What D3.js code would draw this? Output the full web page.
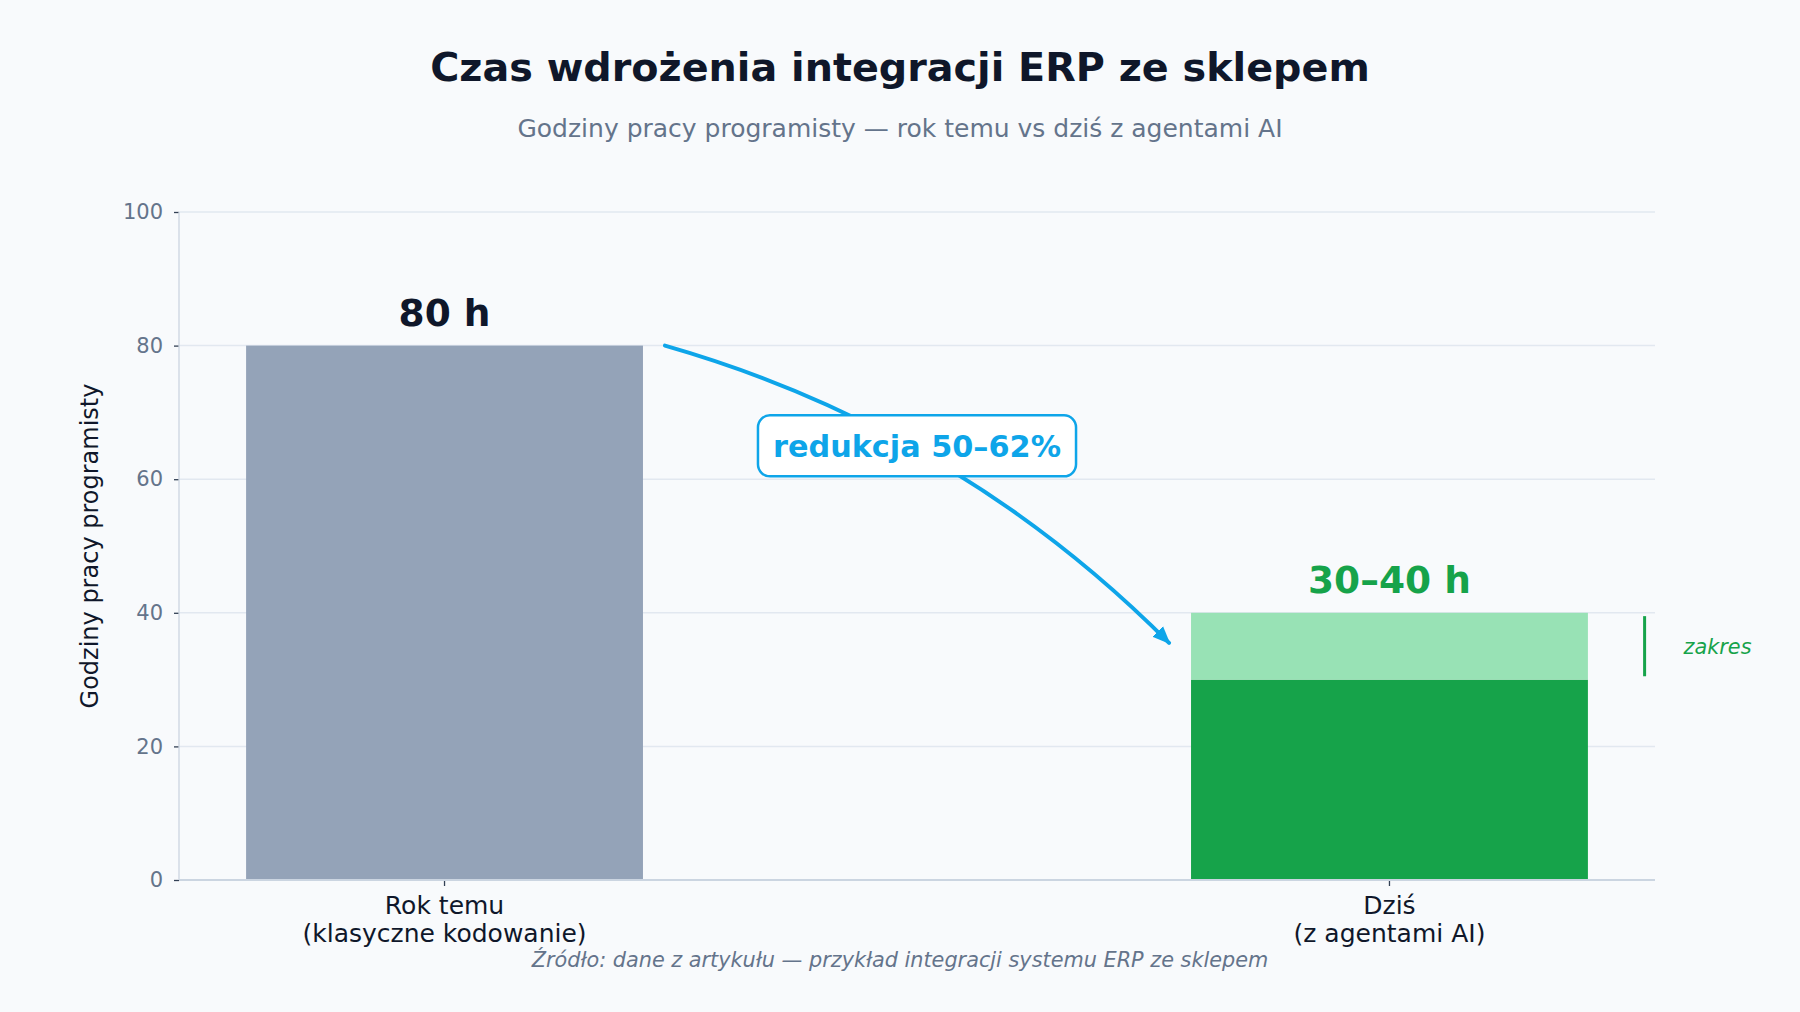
<!DOCTYPE html>
<html>
<head>
<meta charset="utf-8">
<script src="https://cdn.jsdelivr.net/npm/d3@7/dist/d3.min.js"></script>
<style>
  body { margin: 0; background: #f8fafc; }
  text { font-family: "DejaVu Sans", sans-serif; }
</style>
</head>
<body>
<div id="chart"></div>
<script>
// data
var categoryLines = [["Rok temu", "(klasyczne kodowanie)"], ["Dziś", "(z agentami AI)"]];
var lowValues = [80, 30];   // solid part of each bar
var highValues = [80, 40];  // top of the range
var valueLabels = ["80 h", "30–40 h"];
var yTicks = [0, 20, 40, 60, 80, 100];
var reductionLabel = "redukcja 50–62%";

var W = 1800, H = 1012;
var margin = {top: 212, right: 145, bottom: 132, left: 179};
var plotW = W - margin.left - margin.right;
var plotH = H - margin.top - margin.bottom;

var slate = "#94a3b8", green = "#16a34a", lightGreen = "#98e2b5", blue = "#0ea5e9";
var dark = "#0f172a", muted = "#64748b";

var svg = d3.select("#chart").append("svg")
    .attr("width", W)
    .attr("height", H)
    .style("background", "#f8fafc");

// titles
svg.append("text")
    .attr("x", W / 2).attr("y", 81)
    .attr("text-anchor", "middle")
    .style("font-size", "39.7px").style("font-weight", "bold")
    .style("fill", dark)
    .text("Czas wdrożenia integracji ERP ze sklepem");
svg.append("text")
    .attr("x", W / 2).attr("y", 137)
    .attr("text-anchor", "middle")
    .style("font-size", "25px")
    .style("fill", muted)
    .text("Godziny pracy programisty — rok temu vs dziś z agentami AI");

var g = svg.append("g")
    .attr("transform", "translate(" + margin.left + "," + margin.top + ")");

var x = d3.scalePoint().domain(d3.range(categoryLines.length)).range([0, plotW]).padding(0.281);
var y = d3.scaleLinear().domain([0, 100]).range([plotH, 0]);
var bw = x.step() * 0.42;

// grid
g.selectAll(".grid")
    .data(yTicks)
    .enter().append("line")
    .attr("x1", 0).attr("x2", plotW)
    .attr("y1", function(d) { return y(d); })
    .attr("y2", function(d) { return y(d); })
    .attr("stroke", "#e2e8f0")
    .attr("stroke-width", 1.5);

// y axis
var yAxis = g.append("g")
    .call(d3.axisLeft(y).tickValues(yTicks).tickSize(5).tickPadding(11));
yAxis.select(".domain").remove();
yAxis.selectAll(".tick line").attr("stroke", "#334155").attr("stroke-width", 1.3);
yAxis.selectAll(".tick text")
    .style("font-size", "21px")
    .style("fill", muted)
    .style("font-family", "DejaVu Sans, sans-serif");

g.append("line")
    .attr("x1", 0).attr("x2", 0).attr("y1", 0).attr("y2", plotH)
    .attr("stroke", "#cbd5e1").attr("stroke-width", 1.3);

svg.append("text")
    .attr("transform", "translate(98," + (margin.top + plotH / 2) + ") rotate(-90)")
    .attr("text-anchor", "middle")
    .style("font-size", "24px")
    .style("fill", dark)
    .text("Godziny pracy programisty");

// bars: solid part
g.selectAll(".bar")
    .data(lowValues)
    .enter().append("rect")
    .attr("x", function(d, i) { return x(i) - bw / 2; })
    .attr("y", function(d) { return y(d); })
    .attr("width", bw)
    .attr("height", function(d) { return y(0) - y(d); })
    .attr("fill", function(d, i) { return i === 0 ? slate : green; });

// bars: range part
g.selectAll(".range")
    .data(highValues)
    .enter().append("rect")
    .attr("x", function(d, i) { return x(i) - bw / 2; })
    .attr("y", function(d) { return y(d); })
    .attr("width", bw)
    .attr("height", function(d, i) { return y(lowValues[i]) - y(d); })
    .attr("fill", lightGreen);

// value labels
g.selectAll(".val")
    .data(valueLabels)
    .enter().append("text")
    .attr("x", function(d, i) { return x(i); })
    .attr("y", function(d, i) { return y(highValues[i]) - 20; })
    .attr("text-anchor", "middle")
    .style("font-size", "37.5px").style("font-weight", "bold")
    .style("fill", function(d, i) { return i === 0 ? dark : green; })
    .text(function(d) { return d; });

// bottom spine + x ticks
g.append("line")
    .attr("x1", 0).attr("x2", plotW).attr("y1", plotH).attr("y2", plotH)
    .attr("stroke", "#cbd5e1").attr("stroke-width", 2);

var xt = g.selectAll(".xtick")
    .data(categoryLines)
    .enter().append("g")
    .attr("transform", function(d, i) { return "translate(" + x(i) + "," + plotH + ")"; });
xt.append("line").attr("y1", 1).attr("y2", 6).attr("stroke", "#334155").attr("stroke-width", 1.3);
xt.append("text")
    .attr("text-anchor", "middle")
    .style("font-size", "25px")
    .style("fill", dark)
    .selectAll("tspan")
    .data(function(d) { return d; })
    .enter().append("tspan")
    .attr("x", 0)
    .attr("y", function(d, i) { return 34 + i * 27.5; })
    .text(function(d) { return d; });

// curved arrow
var p0 = [x(0) + bw / 2 + 22, y(lowValues[0])];
var p2 = [x(1) - bw / 2 - 22, y(35.5)];
var rad = 0.13;
var mid = [(p0[0] + p2[0]) / 2, (p0[1] + p2[1]) / 2];
var ctrl = [mid[0] + rad * (p2[1] - p0[1]), mid[1] - rad * (p2[0] - p0[0])];

svg.append("defs").append("marker")
    .attr("id", "head")
    .attr("markerUnits", "userSpaceOnUse")
    .attr("viewBox", "0 -9 20 18")
    .attr("refX", 16).attr("refY", 0)
    .attr("markerWidth", 20).attr("markerHeight", 18)
    .attr("orient", "auto")
    .append("path")
    .attr("d", "M0,-7.5L18,0L0,7.5Z")
    .attr("fill", blue);

var path = d3.path();
path.moveTo(p0[0], p0[1]);
path.quadraticCurveTo(ctrl[0], ctrl[1], p2[0], p2[1]);
g.append("path")
    .attr("d", path.toString())
    .attr("fill", "none")
    .attr("stroke", blue)
    .attr("stroke-width", 4)
    .attr("stroke-linecap", "round")
    .attr("marker-end", "url(#head)");

// reduction label box
var bx = (x(0) + x(1)) / 2, by = y(65);
var lab = g.append("g");
var labRect = lab.append("rect");
var labText = lab.append("text")
    .attr("x", bx).attr("y", by + 11)
    .attr("text-anchor", "middle")
    .style("font-size", "30.3px").style("font-weight", "bold")
    .style("fill", blue)
    .text(reductionLabel);
var bb = labText.node().getBBox();
labRect
    .attr("x", bb.x - 15).attr("y", by - 30.5)
    .attr("width", bb.width + 30).attr("height", 61)
    .attr("rx", 12).attr("ry", 12)
    .attr("fill", "#ffffff")
    .attr("stroke", blue)
    .attr("stroke-width", 2.5);

// range marker
var rx = x(1) + x.step() * 0.27;
g.append("line")
    .attr("x1", rx).attr("x2", rx)
    .attr("y1", y(highValues[1] - 0.5)).attr("y2", y(lowValues[1] + 0.5))
    .attr("stroke", green).attr("stroke-width", 3);
g.append("text")
    .attr("x", rx + 39)
    .attr("y", y((lowValues[1] + highValues[1]) / 2) + 7.5)
    .style("font-size", "20.8px").style("font-style", "italic")
    .style("fill", green)
    .text("zakres");

// source
svg.append("text")
    .attr("x", W / 2).attr("y", 967)
    .attr("text-anchor", "middle")
    .style("font-size", "20.8px").style("font-style", "italic")
    .style("fill", muted)
    .text("Źródło: dane z artykułu — przykład integracji systemu ERP ze sklepem");
</script>
</body>
</html>
